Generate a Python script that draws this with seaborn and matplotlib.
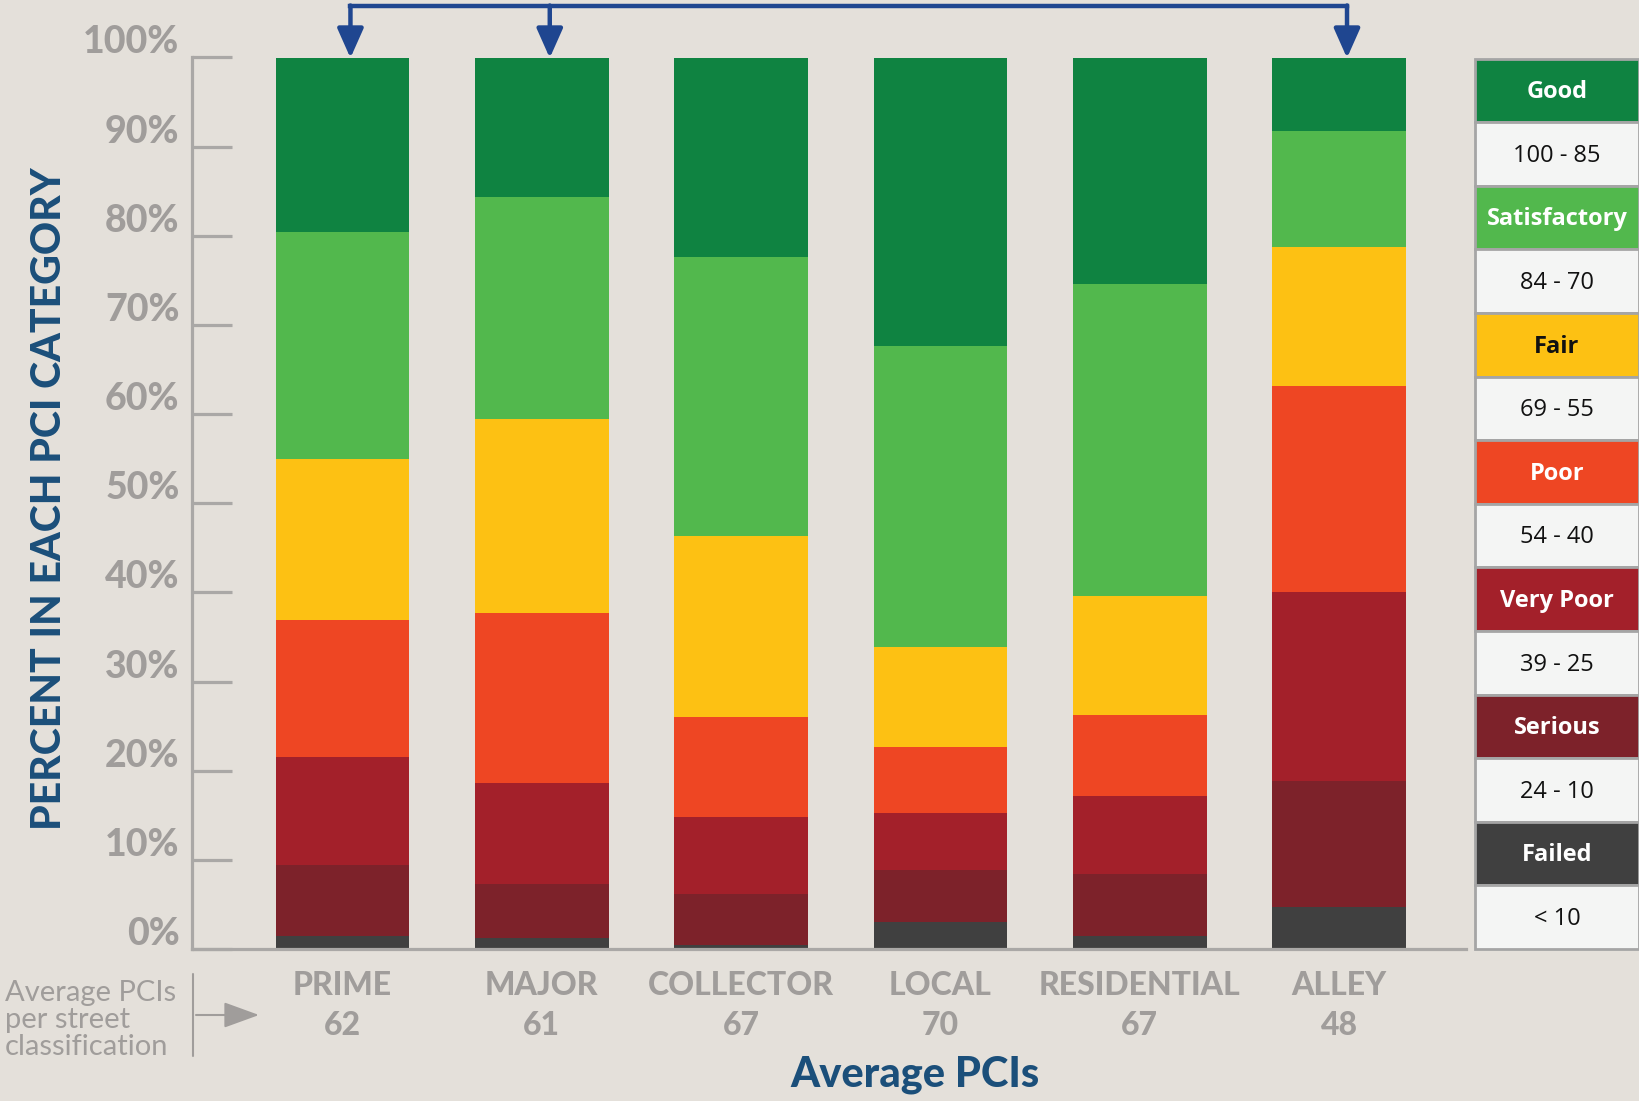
import numpy as np
import pandas as pd
import matplotlib
matplotlib.use("Agg")
import matplotlib.pyplot as plt
import matplotlib.transforms as mtransforms
from matplotlib.lines import Line2D
from matplotlib.patches import Rectangle, FancyArrowPatch
import seaborn as sns

# ---------------- data ----------------
streets = ["PRIME", "MAJOR", "COLLECTOR", "LOCAL", "RESIDENTIAL", "ALLEY"]
avg_pci = [62, 61, 67, 70, 67, 48]

conditions = ["Good", "Satisfactory", "Fair", "Poor", "Very Poor", "Serious", "Failed"]
pci_ranges = ["100 - 85", "84 - 70", "69 - 55", "54 - 40", "39 - 25", "24 - 10", "< 10"]

good = [19.6, 15.7, 22.4, 32.4, 25.4, 8.3]
satisfactory = [25.4, 24.9, 31.3, 33.7, 35.0, 13.0]
fair = [18.1, 21.7, 20.3, 11.2, 13.3, 15.6]
poor = [15.4, 19.1, 11.2, 7.5, 9.1, 23.0]
very_poor = [12.1, 11.3, 8.6, 6.3, 8.8, 21.3]
serious = [7.9, 6.1, 5.7, 5.9, 6.9, 14.1]
failed = [1.5, 1.2, 0.5, 3.0, 1.5, 4.7]

yticks = [0, 10, 20, 30, 40, 50, 60, 70, 80, 90, 100]

series = {"Good": good, "Satisfactory": satisfactory, "Fair": fair, "Poor": poor,
          "Very Poor": very_poor, "Serious": serious, "Failed": failed}
colors = {"Good": "#0f8341", "Satisfactory": "#52b84d", "Fair": "#fdc113",
          "Poor": "#ee4623", "Very Poor": "#a3202a", "Serious": "#7d222a",
          "Failed": "#404040"}
label_text_color = {"Good": "white", "Satisfactory": "white", "Fair": "#111111",
                    "Poor": "white", "Very Poor": "white", "Serious": "white",
                    "Failed": "white"}

BG = "#e4e0da"
GRAY_TXT = "#a09d9b"
GRAY_LINE = "#aaa8a6"
BLUE_TXT = "#1b4f7a"
BLUE_ARROW = "#1f4690"

sns.set_theme(style="white")
plt.rcParams["font.family"] = ["Lato", "DejaVu Sans"]

W, H = 1639, 1101
fig = plt.figure(figsize=(W / 100, H / 100), dpi=100, facecolor=BG)
ax = fig.add_axes([192 / W, 1 - 949 / H, (1466 - 192) / W, (949 - 57.5) / H])
ax.set_facecolor(BG)

# ---------------- stacked bars ----------------
bottom = np.zeros(len(streets))
for name in reversed(conditions):
    vals = np.array(series[name], dtype=float)
    df = pd.DataFrame({"street": streets, "pct": vals})
    sns.barplot(data=df, x="street", y="pct", order=streets, color=colors[name],
                saturation=1, width=0.671, bottom=bottom.copy(), linewidth=0,
                errorbar=None, ax=ax)
    bottom = bottom + vals

ax.set_xlim(-0.755, 5.637)
ax.set_ylim(0, 100)

# axes styling
for s in ["top", "right"]:
    ax.spines[s].set_visible(False)
for s in ["left", "bottom"]:
    ax.spines[s].set_color(GRAY_LINE)
    ax.spines[s].set_linewidth(2.3)
    ax.spines[s].set_zorder(5)

ax.set_yticks(yticks)
ax.set_yticklabels([f"{v}%" for v in yticks])
ax.tick_params(axis="y", direction="in", length=29, width=2.3, color=GRAY_LINE,
               labelsize=27, labelcolor=GRAY_TXT, pad=9, left=True)
for lab in ax.get_yticklabels():
    lab.set_fontweight("black")
    lab.set_transform(lab.get_transform() +
                      mtransforms.ScaledTranslation(0, 0.18, fig.dpi_scale_trans))

ax.set_xticks(range(len(streets)))
ax.set_xticklabels([f"{s}\n{v}" for s, v in zip(streets, avg_pci)])
ax.tick_params(axis="x", length=0, labelsize=23, labelcolor=GRAY_TXT, pad=16)
for lab in ax.get_xticklabels():
    lab.set_fontweight("black")
    lab.set_linespacing(1.45)

ax.set_ylabel("PERCENT IN EACH PCI CATEGORY", fontsize=29.5, fontweight="black",
              color=BLUE_TXT)
ax.yaxis.set_label_coords(-0.112, 0.505)
ax.yaxis.label.set_va("center")

ax.set_xlabel("Average PCIs", fontsize=30, fontweight="black", color=BLUE_TXT)
ax.xaxis.set_label_coords(0.5675, -0.141)
ax.xaxis.label.set_va("center")

# ---------------- bracket with arrows ----------------
trans = mtransforms.blended_transform_factory(ax.transData, fig.transFigure)
y_bracket = 1 - 5.5 / H
y_tip = 1 - 58 / H
arrow_idx = [0, 1, 5]
off = 0.04
fig.add_artist(Line2D([arrow_idx[0] + off, arrow_idx[-1] + off], [y_bracket, y_bracket],
                      transform=trans, color=BLUE_ARROW, lw=3.2, solid_capstyle="projecting"))
for i in arrow_idx:
    ax.annotate("", xy=(i + off, y_tip), xycoords=trans,
                xytext=(i + off, y_bracket), textcoords=trans,
                arrowprops=dict(arrowstyle="-|>,head_length=0.9,head_width=0.4",
                                color=BLUE_ARROW, lw=3.2, shrinkA=0, shrinkB=0,
                                mutation_scale=20))

# ---------------- left footnote ----------------
fig.text(5 / W, 1 - 980 / H, "Average PCIs\nper street\nclassification",
         ha="left", va="top", fontsize=21, color=GRAY_TXT, linespacing=1.05)
fig.add_artist(Line2D([193 / W, 193 / W], [1 - 974 / H, 1 - 1056 / H],
                      transform=fig.transFigure, color=GRAY_TXT, lw=1.5))
fig.add_artist(FancyArrowPatch(
    (196 / W, 1 - 1015 / H), (259 / W, 1 - 1015 / H), transform=fig.transFigure,
    arrowstyle="-|>,head_length=1.1,head_width=0.4", mutation_scale=20,
    color=GRAY_TXT, lw=1.5, shrinkA=0, shrinkB=0))

# ---------------- legend table ----------------
la = fig.add_axes([1475 / W, 1 - 949 / H, (W - 1475) / W, (949 - 58.5) / H])
la.set_xlim(0, 1)
la.set_ylim(2 * len(conditions), 0)
la.axis("off")
for i, (name, rng) in enumerate(zip(conditions, pci_ranges)):
    la.add_patch(Rectangle((0, 2 * i), 1, 1, facecolor=colors[name],
                           edgecolor="#a5a5a5", lw=2, clip_on=False))
    la.add_patch(Rectangle((0, 2 * i + 1), 1, 1, facecolor="#f4f5f4",
                           edgecolor="#a5a5a5", lw=2, clip_on=False))
    la.text(0.5, 2 * i + 0.53, name, ha="center", va="center", fontsize=17,
            fontweight="bold", color=label_text_color[name],
            family=["Open Sans", "DejaVu Sans"])
    la.text(0.5, 2 * i + 1.53, rng, ha="center", va="center", fontsize=17,
            color="#111111", family=["Open Sans", "DejaVu Sans"])

fig.savefig("out.png", dpi=100, facecolor=BG)
